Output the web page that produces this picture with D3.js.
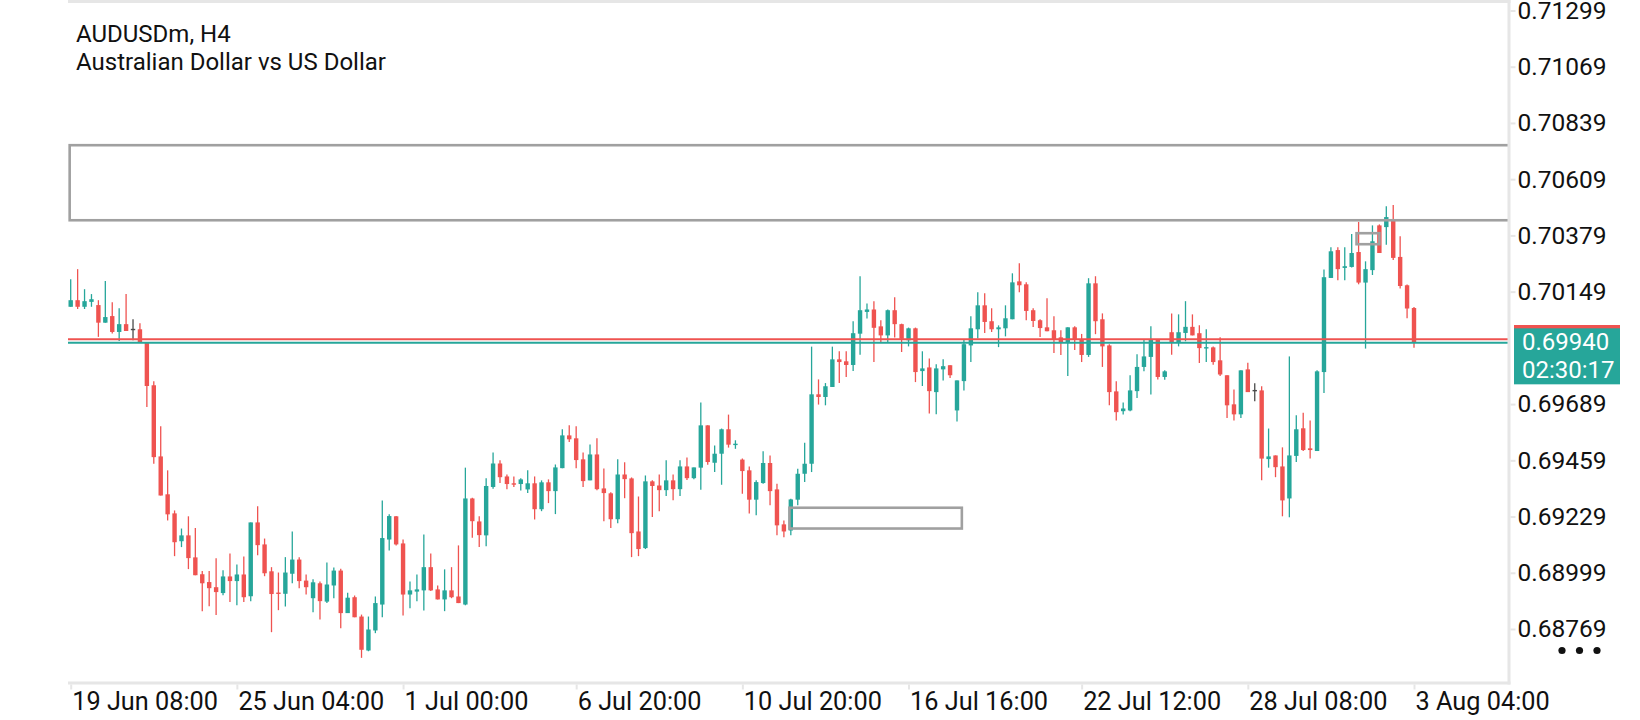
<!DOCTYPE html>
<html>
<head>
<meta charset="utf-8">
<script src="https://cdn.jsdelivr.net/npm/d3@7/dist/d3.min.js"></script>
<style>
html,body{margin:0;padding:0;background:#fff;}
svg{display:block;font-family:Roboto,"Noto Sans",sans-serif;}
</style>
</head>
<body>
<svg id="chart" width="1640" height="720"></svg>
<script>
const symbolTitle = "AUDUSDm, H4";
const symbolName = "Australian Dollar vs US Dollar";

const opens = [0.70087,0.70114,0.70087,0.70107,0.70094,0.70022,0.70049,0.69984,0.70016,0.69994,
0.69995,0.69942,0.69766,0.69475,0.69320,0.69242,0.69128,0.69152,0.69062,0.68993,
0.68961,0.68940,0.68916,0.68984,0.68965,0.68992,0.68903,0.69205,0.69115,0.69005,
0.68918,0.68913,0.68995,0.69053,0.68967,0.68895,0.68956,0.68881,0.68947,0.69008,
0.68834,0.68899,0.68820,0.68681,0.68763,0.68869,0.69135,0.69230,0.69119,0.68910,
0.68922,0.68927,0.69022,0.68931,0.68890,0.68927,0.68902,0.68869,0.69303,0.69209,
0.69152,0.69350,0.69446,0.69393,0.69365,0.69362,0.69340,0.69365,0.69259,0.69369,
0.69333,0.69427,0.69561,0.69549,0.69463,0.69377,0.69483,0.69344,0.69324,0.69218,
0.69401,0.69385,0.69168,0.69100,0.69373,0.69356,0.69337,0.69377,0.69341,0.69434,
0.69386,0.69429,0.69602,0.69449,0.69486,0.69586,0.69523,0.69462,0.69418,0.69298,
0.69366,0.69448,0.69340,0.69197,0.69172,0.69298,0.69404,0.69445,0.69729,0.69718,
0.69759,0.69872,0.69864,0.69849,0.69977,0.70066,0.70076,0.70007,0.69970,0.70073,
0.70016,0.69950,0.69999,0.69824,0.69839,0.69738,0.69831,0.69848,0.69663,0.69783,
0.69929,0.69995,0.70093,0.70028,0.69995,0.69999,0.70036,0.70191,0.70179,0.70073,
0.70032,0.70003,0.69991,0.69962,0.69943,0.70003,0.69955,0.69890,0.70183,0.70036,
0.69929,0.69741,0.69660,0.69663,0.69742,0.69841,0.69882,0.69954,0.69800,0.69983,
0.69943,0.69980,0.70005,0.69979,0.69918,0.69921,0.69868,0.69807,0.69688,0.69647,
0.69831,0.69744,0.69745,0.69464,0.69479,0.69434,0.69303,0.69477,0.69590,0.69508,
0.69497,0.69820,0.70205,0.70319,0.70246,0.70250,0.70311,0.70186,0.70237,0.70420,
0.70413,0.70441,0.70291,0.70175,0.70082];

const highs = [0.70200,0.70241,0.70159,0.70139,0.70114,0.70192,0.70106,0.70081,0.70139,0.70036,
0.70020,0.69942,0.69782,0.69598,0.69418,0.69254,0.69180,0.69230,0.69182,0.69006,
0.69006,0.69058,0.69009,0.69078,0.69033,0.69066,0.69205,0.69271,0.69139,0.69022,
0.69000,0.69063,0.69168,0.69063,0.68992,0.68972,0.68963,0.69041,0.69021,0.69015,
0.68917,0.68906,0.68828,0.68820,0.68902,0.69295,0.69238,0.69231,0.69135,0.68963,
0.68992,0.69156,0.69078,0.68947,0.69013,0.69022,0.69111,0.69429,0.69306,0.69230,
0.69386,0.69491,0.69459,0.69401,0.69393,0.69386,0.69418,0.69393,0.69377,0.69381,
0.69442,0.69586,0.69602,0.69598,0.69491,0.69524,0.69549,0.69426,0.69328,0.69463,
0.69451,0.69389,0.69311,0.69397,0.69377,0.69401,0.69459,0.69401,0.69459,0.69471,
0.69430,0.69695,0.69602,0.69520,0.69589,0.69646,0.69541,0.69466,0.69434,0.69377,
0.69496,0.69479,0.69363,0.69213,0.69302,0.69425,0.69531,0.69924,0.69790,0.69775,
0.69924,0.69905,0.69905,0.70028,0.70212,0.70100,0.70110,0.70032,0.70076,0.70126,
0.70018,0.70002,0.70002,0.69905,0.69876,0.69852,0.69872,0.69848,0.69786,0.69953,
0.70048,0.70146,0.70142,0.70081,0.70011,0.70093,0.70224,0.70265,0.70187,0.70081,
0.70036,0.70122,0.70048,0.69991,0.70003,0.70007,0.69976,0.70204,0.70212,0.70060,
0.69934,0.69782,0.69696,0.69807,0.69893,0.69951,0.70007,0.69954,0.69827,0.70060,
0.70056,0.70110,0.70056,0.70011,0.69995,0.69925,0.69962,0.69807,0.69749,0.69827,
0.69858,0.69774,0.69762,0.69589,0.69479,0.69512,0.69884,0.69643,0.69654,0.69622,
0.69827,0.70240,0.70331,0.70331,0.70331,0.70385,0.70434,0.70273,0.70420,0.70424,
0.70498,0.70503,0.70376,0.70178,0.70086];

const lows = [0.70087,0.70078,0.70078,0.70087,0.69964,0.70022,0.69978,0.69947,0.69988,0.69950,
0.69939,0.69677,0.69445,0.69315,0.69213,0.69067,0.69104,0.69014,0.68989,0.68842,
0.68862,0.68826,0.68907,0.68879,0.68866,0.68879,0.68883,0.69071,0.68985,0.68756,
0.68846,0.68861,0.68956,0.68936,0.68910,0.68838,0.68808,0.68875,0.68895,0.68772,
0.68834,0.68817,0.68651,0.68678,0.68752,0.68817,0.69090,0.69111,0.68824,0.68854,
0.68883,0.68845,0.68924,0.68890,0.68842,0.68895,0.68875,0.68866,0.69142,0.69104,
0.69107,0.69343,0.69366,0.69341,0.69350,0.69336,0.69325,0.69217,0.69251,0.69284,
0.69239,0.69427,0.69534,0.69427,0.69350,0.69377,0.69337,0.69210,0.69182,0.69202,
0.69304,0.69063,0.69067,0.69096,0.69227,0.69251,0.69313,0.69296,0.69313,0.69378,
0.69382,0.69339,0.69441,0.69411,0.69359,0.69511,0.69506,0.69322,0.69241,0.69234,
0.69363,0.69275,0.69152,0.69144,0.69152,0.69275,0.69370,0.69411,0.69687,0.69684,
0.69759,0.69775,0.69800,0.69824,0.69891,0.70039,0.69861,0.69943,0.69943,0.69961,
0.69902,0.69925,0.69779,0.69763,0.69651,0.69647,0.69786,0.69796,0.69618,0.69745,
0.69861,0.69957,0.69980,0.69984,0.69922,0.69966,0.70036,0.70146,0.70032,0.70004,
0.69963,0.69987,0.69898,0.69890,0.69804,0.69910,0.69861,0.69882,0.69975,0.69841,
0.69684,0.69622,0.69646,0.69660,0.69714,0.69823,0.69728,0.69790,0.69789,0.69891,
0.69925,0.69946,0.69970,0.69857,0.69861,0.69850,0.69804,0.69632,0.69622,0.69632,
0.69738,0.69701,0.69377,0.69429,0.69390,0.69230,0.69226,0.69452,0.69497,0.69466,
0.69497,0.69734,0.70205,0.70196,0.70196,0.70248,0.70179,0.69916,0.70217,0.70307,
0.70341,0.70278,0.70162,0.70040,0.69919];

const closes = [0.70114,0.70087,0.70110,0.70118,0.70022,0.70045,0.69984,0.70016,0.69988,0.69994,
0.69942,0.69763,0.69472,0.69315,0.69238,0.69124,0.69152,0.69059,0.68989,0.68956,
0.68936,0.68920,0.68984,0.68965,0.68992,0.68899,0.69205,0.69112,0.68997,0.68912,
0.68914,0.69000,0.69053,0.68965,0.68940,0.68960,0.68883,0.68951,0.69008,0.68834,
0.68897,0.68817,0.68684,0.68767,0.68875,0.69141,0.69231,0.69115,0.68910,0.68927,
0.68931,0.69022,0.68927,0.68890,0.68927,0.68899,0.68875,0.69303,0.69210,0.69153,
0.69354,0.69446,0.69390,0.69362,0.69361,0.69381,0.69365,0.69259,0.69369,0.69333,
0.69430,0.69561,0.69545,0.69460,0.69374,0.69483,0.69341,0.69325,0.69218,0.69401,
0.69382,0.69161,0.69096,0.69373,0.69354,0.69337,0.69377,0.69341,0.69434,0.69386,
0.69430,0.69602,0.69452,0.69486,0.69586,0.69523,0.69527,0.69415,0.69298,0.69370,
0.69448,0.69333,0.69193,0.69168,0.69299,0.69404,0.69445,0.69729,0.69718,0.69762,
0.69872,0.69861,0.69849,0.69979,0.70073,0.70076,0.70001,0.69970,0.70073,0.70016,
0.69956,0.69999,0.69820,0.69835,0.69742,0.69835,0.69844,0.69807,0.69786,0.69934,
0.69999,0.70093,0.70025,0.69995,0.70003,0.70040,0.70187,0.70175,0.70070,0.70029,
0.70000,0.69987,0.69955,0.69943,0.70003,0.69955,0.69890,0.70183,0.70028,0.69925,
0.69738,0.69656,0.69671,0.69745,0.69841,0.69884,0.69954,0.69800,0.69823,0.69943,
0.69983,0.70005,0.69970,0.69918,0.69922,0.69861,0.69810,0.69684,0.69647,0.69827,
0.69738,0.69744,0.69466,0.69475,0.69431,0.69295,0.69479,0.69586,0.69501,0.69501,
0.69823,0.70208,0.70314,0.70241,0.70253,0.70307,0.70186,0.70241,0.70355,0.70307,
0.70454,0.70287,0.70172,0.70080,0.69940];

const timeTickIndex = [0, 24, 48, 73, 97, 121, 146, 170, 194];
const timeTickLabels = ["19 Jun 08:00","25 Jun 04:00","1 Jul 00:00","6 Jul 20:00","10 Jul 20:00","16 Jul 16:00","22 Jul 12:00","28 Jul 08:00","3 Aug 04:00"];
// 0.69919 sits under the current-price box in the reference, so it is not shown
const priceTicks = [0.71299,0.71069,0.70839,0.70609,0.70379,0.70149,0.69689,0.69459,0.69229,0.68999,0.68769];

// drawn rectangles: start bar, end bar, upper price, lower price
const zoneStart = [-0.15, 103.8, 185.7];
const zoneEnd   = [230, 128.7, 189.0];
const zoneTop   = [0.70748, 0.69265, 0.70388];
const zoneBottom= [0.70441, 0.69180, 0.70343];

const bidPrice = 0.69940;
const askPrice = 0.69954;
const barTimer = "02:30:17";

const UP = "#26a69a", DOWN = "#ef5350", FLAT = "#4a4a4a";
const FRAME = "#e6e6e6";

const svg = d3.select("#chart");
const plotLeft = 68, plotRight = 1509, plotTop = 0, plotBottom = 683;

const n = opens.length;
const x = d3.scaleLinear().domain([0, n - 1]).range([70.7, 1414]);
const y = d3.scaleLinear().domain([0.68769, 0.71299]).range([629, 10.5]);

svg.append("defs").append("clipPath").attr("id","plotclip")
  .append("rect").attr("x", plotLeft).attr("y", plotTop)
  .attr("width", plotRight - plotLeft).attr("height", plotBottom - plotTop);

const plot = svg.append("g").attr("clip-path","url(#plotclip)");

const bars = d3.range(n).map(i => ({i, o: opens[i], h: highs[i], l: lows[i], c: closes[i]}));
const col = d => d.c > d.o ? UP : (d.c < d.o ? DOWN : FLAT);

const bodyW = 4.4;
const cg = plot.append("g");
cg.selectAll("line.wick").data(bars).join("line")
  .attr("class","wick")
  .attr("x1", d => x(d.i)).attr("x2", d => x(d.i))
  .attr("y1", d => y(d.h)).attr("y2", d => y(d.l))
  .attr("stroke", col).attr("stroke-width", 1.3);
cg.selectAll("rect.body").data(bars).join("rect")
  .attr("class","body")
  .attr("x", d => x(d.i) - bodyW / 2)
  .attr("width", bodyW)
  .attr("y", d => d.o === d.c ? y(d.o) - 0.7 : y(Math.max(d.o, d.c)))
  .attr("height", d => d.o === d.c ? 1.4 : Math.max(1.4, Math.abs(y(d.o) - y(d.c))))
  .attr("fill", col);

// rectangles
const zones = d3.range(zoneStart.length).map(k => ({s: zoneStart[k], e: zoneEnd[k], t: zoneTop[k], b: zoneBottom[k]}));
plot.selectAll("rect.zone").data(zones).join("rect")
  .attr("class","zone")
  .attr("x", d => x(d.s)).attr("width", d => x(d.e) - x(d.s))
  .attr("y", d => y(d.t)).attr("height", d => y(d.b) - y(d.t))
  .attr("fill","none").attr("stroke","#a0a0a0").attr("stroke-width", 2.6);

// ask / bid lines
plot.append("line").attr("x1", plotLeft).attr("x2", plotRight)
  .attr("y1", y(askPrice)).attr("y2", y(askPrice))
  .attr("stroke", DOWN).attr("stroke-width", 2);
plot.append("line").attr("x1", plotLeft).attr("x2", plotRight)
  .attr("y1", y(bidPrice)).attr("y2", y(bidPrice))
  .attr("stroke", UP).attr("stroke-width", 2);

// frame
svg.append("line").attr("x1", plotLeft).attr("x2", plotRight + 1.5).attr("y1", 1.5).attr("y2", 1.5)
  .attr("stroke", FRAME).attr("stroke-width", 3);
svg.append("line").attr("x1", plotRight).attr("x2", plotRight).attr("y1", 0).attr("y2", plotBottom + 1.5)
  .attr("stroke", FRAME).attr("stroke-width", 3);
svg.append("line").attr("x1", plotLeft).attr("x2", plotRight + 1.5).attr("y1", plotBottom).attr("y2", plotBottom)
  .attr("stroke", FRAME).attr("stroke-width", 3);

// price axis
const yAxis = d3.axisRight(y).tickValues(priceTicks).tickFormat(d3.format(".5f")).tickSize(5).tickPadding(2);
const yg = svg.append("g").attr("transform", `translate(${plotRight + 1.5},0)`).call(yAxis);
yg.select(".domain").remove();
yg.selectAll(".tick line").attr("stroke", FRAME).attr("stroke-width", 2);
yg.selectAll(".tick text").attr("font-size", 24.5).attr("fill", "#111")
  .attr("font-family", "Roboto, 'Noto Sans', sans-serif");

// time axis
const xAxis = d3.axisBottom(x).tickValues(timeTickIndex)
  .tickFormat((d, k) => timeTickLabels[k]).tickSize(5).tickPadding(3);
const xg = svg.append("g").attr("transform", `translate(0,${plotBottom + 1.5})`).call(xAxis);
xg.select(".domain").remove();
xg.selectAll(".tick line").attr("stroke", FRAME).attr("stroke-width", 2);
xg.selectAll(".tick text").attr("font-size", 25.3).attr("fill", "#111")
  .attr("text-anchor", "start").attr("x", 1)
  .attr("font-family", "Roboto, 'Noto Sans', sans-serif");

// current price labels
const boxX = 1514, boxW = 106;
svg.append("rect").attr("x", boxX).attr("width", boxW)
  .attr("y", y(askPrice) - 14.3).attr("height", 22).attr("fill", DOWN);
svg.append("rect").attr("x", boxX).attr("width", boxW)
  .attr("y", y(bidPrice) - 14.4).attr("height", 56).attr("fill", UP);
svg.append("text").attr("x", boxX + 8).attr("y", y(bidPrice) + 7.5)
  .attr("font-size", 24).attr("fill", "#fff").text(d3.format(".5f")(bidPrice));
svg.append("text").attr("x", boxX + 8).attr("y", y(bidPrice) + 35)
  .attr("font-size", 24).attr("fill", "#fff").text(barTimer);

// header
svg.append("text").attr("x", 76).attr("y", 42).attr("font-size", 24).attr("fill", "#111").text(symbolTitle);
svg.append("text").attr("x", 76).attr("y", 70).attr("font-size", 24).attr("fill", "#111").text(symbolName);

// menu dots
svg.selectAll("circle.dot").data([0, 1, 2]).join("circle")
  .attr("class","dot").attr("cx", d => 1562 + d * 17.5).attr("cy", 650.5).attr("r", 3.6).attr("fill", "#111");
</script>
</body>
</html>
